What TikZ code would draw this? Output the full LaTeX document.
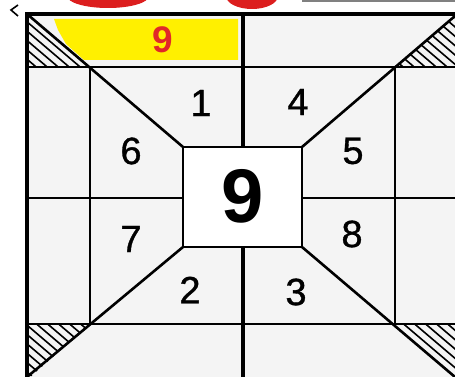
\documentclass[tikz,border=0pt]{standalone}
\usepackage{fontspec}
\setmainfont{Liberation Sans}
\newfontfamily\numfont{Liberation Sans}[BoldFont={Liberation Sans},BoldFeatures={FakeBold=0.9}]
\begin{document}
\begin{tikzpicture}[x=1pt,y=-1pt,
  grid/.style={line width=2.6pt,black},
  border/.style={line width=3.2pt,black},
  hatch/.style={line width=1.6pt,black},
  num/.style={font=\numfont\bfseries\fontsize{38}{38}\selectfont,text=black,inner sep=0pt},
  bignum/.style={font=\fontsize{76}{76}\selectfont\bfseries,text=black,inner sep=0pt},
  rednum/.style={font=\fontsize{37}{37}\selectfont\bfseries,text={rgb,255:red,225;green,40;blue,40},inner sep=0pt}]
\definecolor{cellbg}{RGB}{244,244,244}
\definecolor{hl}{RGB}{255,240,0}
\definecolor{blobred}{RGB}{220,30,30}
\useasboundingbox (0,0) rectangle (455,377);
\fill[white] (0,0) rectangle (455,377);
% key points
\coordinate (OTL) at (27,14);   \coordinate (OTR) at (459,14);
\coordinate (OBL) at (27,380);  \coordinate (OBR) at (459,380);
\coordinate (GTL) at (90,67);   \coordinate (GTR) at (395,67);
\coordinate (GBL) at (90,324);  \coordinate (GBR) at (395,324);
\coordinate (CTL) at (183,147); \coordinate (CTR) at (302,147);
\coordinate (CBL) at (183,247); \coordinate (CBR) at (302,247);
% backgrounds
\fill[cellbg] (OTL) rectangle (OBR);
\fill[white] (CTL) rectangle (CBR);
\fill[hl] (54,19) -- (238,19) -- (238,60) -- (84,60) -- (66,44) -- (58,30) -- cycle;
% top decoration fragments
\fill[blobred] (108,-4) ellipse (41pt and 12pt);
\fill[blobred] (252,-4) ellipse (26pt and 13pt);
\draw[line width=1.5pt,gray] (302,1) -- (455,1);
\draw[line width=1.6pt] (18,5) -- (11,10) -- (18,16);
% hatched corners
\begin{scope}
  \clip (OTL) -- (GTL) -- (27,67) -- cycle;
  \begin{scope}[shift={(48,49)}]
    \foreach \d in {-88,-77,...,88} \draw[hatch] (\d-80,-68) -- (\d+80,68);
  \end{scope}
\end{scope}
\begin{scope}
  \clip (GTR) -- (459,67) -- (459,14) -- cycle;
  \begin{scope}[shift={(437,49)}]
    \foreach \d in {-88,-77,...,88} \draw[hatch] (\d-80,-68) -- (\d+80,68);
  \end{scope}
\end{scope}
\begin{scope}
  \clip (GBL) -- (27,324) -- (27,380) -- cycle;
  \begin{scope}[shift={(48,343)}]
    \foreach \d in {-88,-77,...,88} \draw[hatch] (\d-80,-68) -- (\d+80,68);
  \end{scope}
\end{scope}
\begin{scope}
  \clip (GBR) -- (459,324) -- (459,380) -- cycle;
  \begin{scope}[shift={(437,343)}]
    \foreach \d in {-88,-77,...,88} \draw[hatch] (\d-80,-68) -- (\d+80,68);
  \end{scope}
\end{scope}
% grid lines
\draw[grid] (27,67) -- (459,67);
\draw[grid] (27,324) -- (459,324);
\draw[grid] (90,67) -- (90,324);
\draw[grid] (395,67) -- (395,324);
\draw[grid] (27,198) -- (183,198);
\draw[grid] (302,198) -- (459,198);
\draw[line width=4pt] (243,14) -- (243,147);
\draw[line width=4pt] (243,247) -- (243,380);
\draw[grid] (CTL) rectangle (CBR);
% diagonals
\draw[grid] (OTL) -- (CTL);
\draw[grid] (455,16) -- (CTR);
\draw[grid] (27,377) -- (CBL);
\draw[grid] (455,377) -- (CBR);
% outer border
\draw[border] (OBL) -- (OTL) -- (OTR);
% numbers
\node[rednum] (r9) at (163,40) {9};
\node[num] (n1) at (201,103) {1};
\node[num] (n4) at (298,102) {4};
\node[num] (n6) at (131,151) {6};
\node[num] (n5) at (353,151) {5};
\node[bignum] (n9) at (243,196) {9};
\node[num] (n7) at (131,239) {7};
\node[num] (n8) at (352,234) {8};
\node[num] (n2) at (190,290) {2};
\node[num] (n3) at (296,292) {3};
\end{tikzpicture}
\end{document}
